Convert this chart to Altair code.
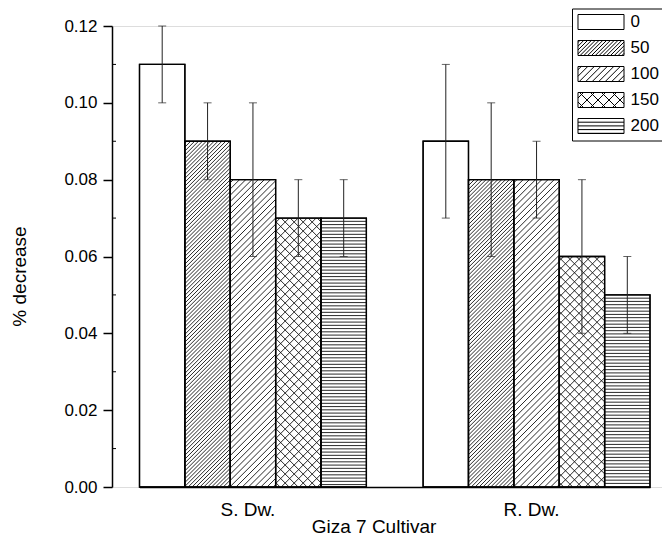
import altair as alt
import pandas as pd

# ---------------- data ----------------
groups = ["S. Dw.", "R. Dw."]
concs = ["0", "50", "100", "150", "200"]
sdw_mean = [0.11, 0.09, 0.08, 0.07, 0.07]
sdw_lo = [0.10, 0.08, 0.06, 0.06, 0.06]
sdw_hi = [0.12, 0.10, 0.10, 0.08, 0.08]
rdw_mean = [0.09, 0.08, 0.08, 0.06, 0.05]
rdw_lo = [0.07, 0.06, 0.07, 0.04, 0.04]
rdw_hi = [0.11, 0.10, 0.09, 0.08, 0.06]
y_ticks = [0.0, 0.02, 0.04, 0.06, 0.08, 0.10, 0.12]
y_minor = [0.01, 0.03, 0.05, 0.07, 0.09, 0.11]

# ---------------- layout / style ----------------
PLOT_W = 550
PLOT_H = 461
Y_MAX = 0.12
X_RANGE = [27.5, 538]
GROUP_PAD = 0.2
FONT = "Liberation Sans"
INK = "#111111"

means = [sdw_mean, rdw_mean]
los = [sdw_lo, rdw_lo]
his = [sdw_hi, rdw_hi]
rows = []
for gi, g in enumerate(groups):
    for ci, c in enumerate(concs):
        rows.append(dict(idx=len(rows), group=g, conc=c, val=means[gi][ci],
                         lo=los[gi][ci], hi=his[gi][ci]))
df = pd.DataFrame(rows)
minor_df = pd.DataFrame({"v": y_minor})

step = (X_RANGE[1] - X_RANGE[0]) / (len(groups) - GROUP_PAD)
bar_w = step * (1 - GROUP_PAD) / len(concs)


def fmt(v):
    return f"{v:.2f}"


# hatch patterns as symbol paths (unit = 1 px when size = 4), centred on the bar
def slash_path(w, h, period, flip=False):
    segs = []
    hw, hh = w / 2.0, h / 2.0
    c = -(hw + hh) + period * 0.5
    while c < hw + hh:
        x0, x1 = max(-hw, c - hh), min(hw, c + hh)
        if x1 > x0:
            if not flip:
                segs.append(f"M{fmt(x0)},{fmt(c - x0)}L{fmt(x1)},{fmt(c - x1)}")
            else:
                segs.append(f"M{fmt(x0)},{fmt(x0 - c)}L{fmt(x1)},{fmt(x1 - c)}")
        c += period
    return "".join(segs)


def horiz_path(w, h, period):
    segs = []
    hw, hh = w / 2.0, h / 2.0
    y = -hh + period
    while y < hh - 0.5:
        segs.append(f"M{fmt(-hw)},{fmt(y)}L{fmt(hw)},{fmt(y)}")
        y += period
    return "".join(segs)


# ---------------- encodings ----------------
xenc = alt.X("group:N", sort=groups,
             scale=alt.Scale(domain=groups, range=X_RANGE, paddingInner=GROUP_PAD, paddingOuter=0),
             axis=alt.Axis(title="Giza 7 Cultivar", labelFontSize=19, titleFontSize=19,
                           labelFont=FONT, titleFont=FONT, labelColor="black", titleColor="black",
                           titleFontWeight="normal", ticks=False, tickSize=0, labelPadding=28,
                           labelBaseline="alphabetic", labelOffset=-5, labelAngle=0,
                           domainColor="black", domainWidth=1.5,
                           titleX=261.5, titleY=45, titleBaseline="alphabetic", titleAlign="center"))
xoff = alt.XOffset("conc:N", sort=concs,
                   scale=alt.Scale(domain=concs, paddingInner=0, paddingOuter=0))


def yenc(field):
    return alt.Y(field, scale=alt.Scale(domain=[0, Y_MAX], nice=False, zero=True),
                 axis=alt.Axis(title="% decrease", values=y_ticks, format=".2f", grid=False,
                               labelFontSize=17, labelFont=FONT, labelColor="black",
                               titleFontSize=19, titleFont=FONT, titleColor="black",
                               titleFontWeight="normal", tickSize=9, tickColor="black",
                               tickWidth=1.5, labelPadding=6, domainColor="black",
                               domainWidth=1.5, titleAngle=270, titleX=-93, titleY=250,
                               titleBaseline="middle", titleAlign="center"))


base = alt.Chart(df)
layers = []

# white bars with black outline
layers.append(base.mark_bar(fill="white", stroke="black", strokeWidth=1.3).encode(
    x=xenc, xOffset=xoff, y=yenc("val:Q")))

# hatching, one symbol per bar, anchored at the bar's middle through the scales
for r in rows:
    c = r["conc"]
    if c == "0":
        continue
    h = r["val"] / Y_MAX * PLOT_H
    if c == "50":
        p = slash_path(bar_w, h, 3.9)
    elif c == "100":
        p = slash_path(bar_w, h, 6.2)
    elif c == "150":
        p = slash_path(bar_w, h, 9.0) + slash_path(bar_w, h, 9.0, flip=True)
    else:
        p = horiz_path(bar_w, h, 3.25)
    layers.append(
        base.transform_filter(alt.datum.idx == r["idx"])
        .transform_calculate(mid="datum.val / 2")
        .mark_point(shape=p, size=4, filled=False, stroke=INK, strokeWidth=0.9, opacity=1)
        .encode(x=xenc, xOffset=xoff, y=yenc("mid:Q"))
    )

# bar outlines on top of hatching
layers.append(base.mark_bar(fill="transparent", stroke="black", strokeWidth=1.3).encode(
    x=xenc, xOffset=xoff, y=yenc("val:Q")))

# error bars
layers.append(base.mark_rule(color="#222222", strokeWidth=1).encode(
    x=xenc, xOffset=xoff, y=yenc("lo:Q"), y2="hi:Q"))
for fld in ["lo:Q", "hi:Q"]:
    layers.append(base.mark_tick(orient="horizontal", size=8, thickness=1, color="#222222").encode(
        x=xenc, xOffset=xoff, y=yenc(fld)))

# minor ticks (inside)
layers.append(alt.Chart(minor_df).mark_rule(color="black", strokeWidth=1).encode(
    y=yenc("v:Q"), x=alt.value(0), x2=alt.value(4)))

# legend with hatched swatches (custom symbol paths)
HW = 46 / 15.0
U = 7.5


def lfmt(v):
    return f"{v:.3f}"


def rect_path():
    return f"M{lfmt(-HW)},-1L{lfmt(HW)},-1L{lfmt(HW)},1L{lfmt(-HW)},1Z"


def lg_slash(period, flip=False):
    segs = []
    c = -HW - 1 + period * 0.5
    while c < HW + 1:
        x0, x1 = max(-HW, c - 1), min(HW, c + 1)
        if x1 > x0:
            if not flip:
                segs.append(f"M{lfmt(x0)},{lfmt(c - x0)}L{lfmt(x1)},{lfmt(c - x1)}")
            else:
                segs.append(f"M{lfmt(x0)},{lfmt(x0 - c)}L{lfmt(x1)},{lfmt(x1 - c)}")
        c += period
    return "".join(segs)


def lg_horiz(period):
    segs = []
    y = -1 + period
    while y < 1 - 1e-6:
        segs.append(f"M{lfmt(-HW)},{lfmt(y)}L{lfmt(HW)},{lfmt(y)}")
        y += period
    return "".join(segs)


paths = [
    rect_path(),
    rect_path() + lg_slash(3.8 / U),
    rect_path() + lg_slash(6.5 / U),
    rect_path() + lg_slash(11 / U) + lg_slash(11 / U, flip=True),
    rect_path() + lg_horiz(3.7 / U),
]

legend_layer = base.transform_filter("false").mark_point(
    filled=False, color="black", strokeWidth=1, size=225, opacity=1
).encode(
    x=xenc, xOffset=xoff, y=yenc("val:Q"),
    shape=alt.Shape("conc:N", scale=alt.Scale(domain=concs, range=paths),
                    legend=alt.Legend(title=None, orient="none", legendX=460, legendY=-17.5,
                                      strokeColor="black", fillColor="white", padding=5,
                                      symbolSize=225, symbolStrokeWidth=1,
                                      symbolStrokeColor="black", symbolFillColor="white",
                                      symbolOffset=15.5, labelOffset=21,
                                      labelFontSize=17, labelFont=FONT, labelColor="black",
                                      rowPadding=7, labelExpr="datum.label + '        '"))
)
layers.append(legend_layer)

chart = alt.layer(*layers).properties(
    width=PLOT_W, height=PLOT_H,
    padding={"left": 104, "top": 18, "right": 0, "bottom": 50},
    autosize=alt.AutoSizeParams(type="none"),
).configure_view(strokeWidth=0).configure(background="white")

chart.save("out.html", embed_options={"renderer": "svg", "actions": False})
